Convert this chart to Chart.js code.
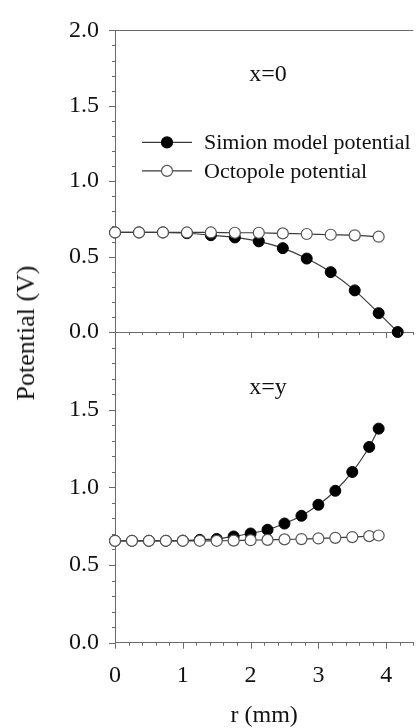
<!DOCTYPE html>
<html><head><meta charset="utf-8">
<script src="https://cdn.jsdelivr.net/npm/chart.js@4.4.0/dist/chart.umd.min.js"></script>
<style>
html,body{margin:0;padding:0;background:#fff;overflow:hidden;width:417px;height:728px;}
#wrap{position:relative;width:417px;height:728px;overflow:hidden;background:#fff;}
canvas{position:absolute;left:0;top:0;}
.txt{position:absolute;font-family:"Liberation Serif",serif;color:#111;white-space:nowrap;transform:translate(-50%,-50%);line-height:1;}
</style></head>
<body><div id="wrap">
<canvas id="topChart" width="420" height="728" style="width:420px;height:728px"></canvas>
<canvas id="botChart" width="420" height="728" style="width:420px;height:728px"></canvas>
<div class="txt" style="left:26px;top:333px;font-family:'Liberation Serif',serif;font-size:26px;transform:translate(-50%,-50%) rotate(-90deg);">Potential (V)</div>
<div class="txt" style="left:268px;top:73px;font-family:'Liberation Serif',serif;font-size:24px;">x=0</div>
<div class="txt" style="left:268px;top:386px;font-family:'Liberation Serif',serif;font-size:24px;">x=y</div>
</div>
<script>
// ---- data ----
const rTopSimion   = [0, 0.354, 0.707, 1.061, 1.414, 1.768, 2.121, 2.475, 2.828, 3.182, 3.536, 3.889, 4.17];
const vTopSimion   = [0.660, 0.660, 0.660, 0.655, 0.642, 0.627, 0.601, 0.556, 0.487, 0.397, 0.276, 0.125, 0.0];
const rTopOctopole = [0, 0.354, 0.707, 1.061, 1.414, 1.768, 2.121, 2.475, 2.828, 3.182, 3.536, 3.889];
const vTopOctopole = [0.660, 0.660, 0.660, 0.660, 0.660, 0.658, 0.658, 0.654, 0.650, 0.645, 0.641, 0.632];

const rBottom      = [0, 0.25, 0.5, 0.75, 1.0, 1.25, 1.5, 1.75, 2.0, 2.25, 2.5, 2.75, 3.0, 3.25, 3.5, 3.75, 3.889];
const vBotSimion   = [0.656, 0.656, 0.656, 0.656, 0.657, 0.662, 0.668, 0.684, 0.703, 0.727, 0.767, 0.817, 0.888, 0.978, 1.099, 1.260, 1.378];
const vBotOctopole = [0.656, 0.656, 0.656, 0.656, 0.656, 0.656, 0.656, 0.657, 0.660, 0.662, 0.665, 0.667, 0.671, 0.675, 0.680, 0.686, 0.690];

const seriesNames = ['Simion model potential', 'Octopole potential'];
const yTickLabels = ['0.0', '0.5', '1.0', '1.5', '2.0'];
const xTickLabels = ['0', '1', '2', '3', '4'];

// ---- style ----
const FONT = '"Liberation Serif",serif';
const AXIS = '#6a6a6a';
const LINE = '#3a3a3a';

function pts(xs, ys){ return xs.map((x,i)=>({x:x, y:ys[i]})); }

function simionDs(data){
  return {label: seriesNames[0], data, borderColor: LINE, borderWidth: 1.2,
    pointRadius: 5.5, pointBackgroundColor: '#000', pointBorderColor: '#000', pointBorderWidth: 1,
    tension: 0.25, clip: false, order: 2};
}
function octoDs(data){
  return {label: seriesNames[1], data, borderColor: LINE, borderWidth: 1.2,
    pointRadius: 5.5, pointBackgroundColor: '#fff', pointBorderColor: '#555', pointBorderWidth: 1.2,
    tension: 0.25, clip: false, order: 1};
}

const axesPlugin = {
  id: 'axesDecor',
  afterDraw(chart, args, opts){
    const {ctx, chartArea: a, scales: {x, y}} = chart;
    ctx.save();
    ctx.strokeStyle = AXIS; ctx.lineWidth = 1;
    ctx.beginPath();
    for (let i = 0; i <= 22; i++){
      const v = i * 0.2; if (v > x.max + 1e-9) break;
      const px = Math.round(x.getPixelForValue(v)) + 0.5;
      const len = (i % 5 === 0) ? 6 : 3;
      ctx.moveTo(px, a.bottom); ctx.lineTo(px, a.bottom + len);
    }
    for (let i = 0; i <= 20; i++){
      const v = i * 0.1;
      const py = Math.round(y.getPixelForValue(v)) + 0.5;
      const len = (i % 5 === 0) ? 6 : 3;
      ctx.moveTo(a.left - len, py); ctx.lineTo(a.left, py);
    }
    if (opts.topLine){
      const py = Math.round(a.top) + 0.5;
      ctx.moveTo(a.left, py); ctx.lineTo(a.right, py);
    }
    ctx.stroke();
    if (opts.legend){
      const rows = [{ds: chart.data.datasets[0], dy: 112}, {ds: chart.data.datasets[1], dy: 140.5}];
      rows.forEach(r => {
        const yy = a.top + r.dy;
        ctx.strokeStyle = LINE; ctx.lineWidth = 1.2;
        ctx.beginPath(); ctx.moveTo(142, yy); ctx.lineTo(192, yy); ctx.stroke();
        ctx.beginPath(); ctx.arc(167, yy, 5.5, 0, Math.PI * 2);
        ctx.fillStyle = r.ds.pointBackgroundColor; ctx.fill();
        ctx.strokeStyle = r.ds.pointBorderColor; ctx.stroke();
        ctx.fillStyle = '#111'; ctx.font = '22px ' + FONT;
        ctx.textBaseline = 'middle'; ctx.textAlign = 'left';
        ctx.fillText(r.ds.label, 204, yy + 1);
      });
    }
    ctx.restore();
  }
};

function makeOptions(isTop){
  return {
    responsive: false, animation: false,
    layout: {padding: isTop ? {top: 23, bottom: 396, left: 0, right: 0} : {top: 332, bottom: 0, left: 0, right: 0}},
    plugins: {legend: {display: false}, tooltip: {enabled: false},
      axesDecor: {topLine: isTop, legend: isTop}},
    scales: {
      x: {type: 'linear', position: 'bottom', min: 0, max: 4.4,
        grid: {display: false, drawTicks: false},
        border: {display: true, color: AXIS, width: 1},
        ticks: {display: !isTop, stepSize: 1, includeBounds: false, padding: 19,
          color: '#111', font: {family: FONT, size: 24},
          callback: (v) => { const i = Math.round(v); return Math.abs(v - i) < 1e-6 && xTickLabels[i] !== undefined ? xTickLabels[i] : ''; }},
        title: {display: !isTop, text: 'r (mm)', color: '#111', font: {family: FONT, size: 24, lineHeight: 1}, padding: {top: 0, bottom: 0}},
        afterFit: (s) => { s.height = isTop ? 0 : 85.3; }
      },
      y: {type: 'linear', min: 0, max: 2,
        grid: {display: false, drawTicks: false},
        border: {display: true, color: AXIS, width: 1},
        ticks: {stepSize: 0.5, padding: 16, color: '#111', font: {family: FONT, size: 24},
          callback: (v) => { const i = Math.round(v * 2); if (!isTop && i === 4) return ''; return yTickLabels[i] !== undefined ? yTickLabels[i] : ''; }},
        afterFit: (s) => { s.width = 115; }
      }
    }
  };
}

new Chart(document.getElementById('topChart'), {
  type: 'line',
  data: {datasets: [simionDs(pts(rTopSimion, vTopSimion)), octoDs(pts(rTopOctopole, vTopOctopole))]},
  options: makeOptions(true),
  plugins: [axesPlugin]
});
new Chart(document.getElementById('botChart'), {
  type: 'line',
  data: {datasets: [simionDs(pts(rBottom, vBotSimion)), octoDs(pts(rBottom, vBotOctopole))]},
  options: makeOptions(false),
  plugins: [axesPlugin]
});
</script>
</body></html>
